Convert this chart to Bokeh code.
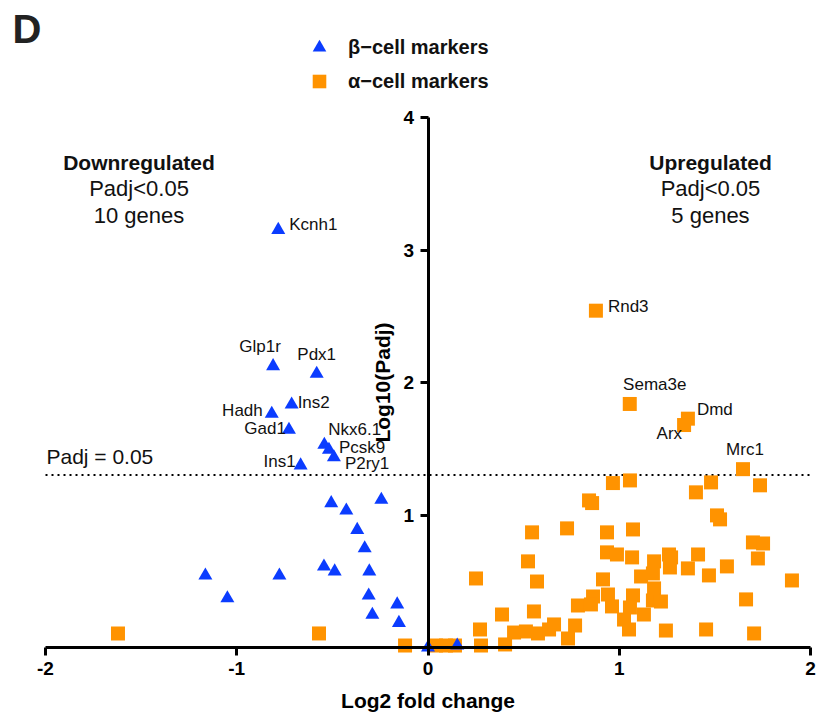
import math
from bokeh.plotting import figure
from bokeh.models import (Range1d, FixedTicker, Legend, LegendItem, Label,
                          ColumnDataSource, NumeralTickFormatter)
from bokeh.core.properties import value
from bokeh.embed import file_html
from bokeh.resources import INLINE

FONT = "Liberation Sans"
BLUE = "#0B3CFF"
ORANGE = "#FF9300"

# ---------------- data ----------------
# beta-cell markers, significant (labelled)
beta_genes = ["Kcnh1", "Glp1r", "Pdx1", "Ins2", "Hadh", "Gad1", "Nkx6.1", "Pcsk9", "P2ry1", "Ins1"]
beta_sig_lfc = [-0.783, -0.810, -0.582, -0.713, -0.817, -0.727, -0.542, -0.518, -0.492, -0.666]
beta_sig_nlp = [3.152, 2.123, 2.066, 1.834, 1.764, 1.643, 1.530, 1.492, 1.436, 1.374]
# beta-cell markers, not significant
beta_ns_lfc = [-0.506, -0.427, -0.244, -0.370, -0.331, -0.544, -0.488, -0.307, -1.164,
               -0.777, -1.049, -0.310, -0.161, -0.291, -0.152, 0.0, 0.153]
beta_ns_nlp = [1.089, 1.034, 1.115, 0.888, 0.749, 0.611, 0.574, 0.574, 0.543,
               0.543, 0.372, 0.392, 0.325, 0.247, 0.186, 0.0, 0.015]

# alpha-cell markers, significant (labelled)
alpha_genes = ["Rnd3", "Sema3e", "Dmd", "Arx", "Mrc1"]
alpha_sig_lfc = [0.878, 1.055, 1.359, 1.339, 1.647]
alpha_sig_nlp = [2.542, 1.838, 1.727, 1.679, 1.346]
# alpha-cell markers, not significant
alpha_ns_lfc = [0.967, 1.056, 1.401, 1.480, 1.736, 0.842, 0.858, 1.511, 1.527, 0.544,
                0.727, 0.936, 1.072, 1.699, 1.752, 0.523, 0.936, 0.988, 1.067, 1.260,
                1.271, 1.182, 1.412, 1.725, 0.251, 0.570, 0.915, 1.114, 1.176, 1.265,
                1.359, 1.469, 1.563, 1.903, 0.863, 0.784, 0.852, 0.941, 0.962, 1.072,
                1.056, 1.182, 1.176, 1.218, 1.129, 1.025, 1.663, 0.387, 0.554, 0.272,
                0.450, 0.512, 0.575, 0.633, 0.659, 0.769, 0.732, 1.051, 1.244, 1.454,
                1.705, 0.277, 0.403, 0.042, 0.094, 0.141, -1.621, -0.570, -0.120]
alpha_ns_nlp = [1.241, 1.261, 1.171, 1.246, 1.224, 1.110, 1.090, 0.997, 0.967, 0.869,
                0.899, 0.869, 0.891, 0.793, 0.785, 0.650, 0.718, 0.702, 0.680, 0.702,
                0.680, 0.650, 0.702, 0.672, 0.521, 0.498, 0.514, 0.536, 0.559, 0.604,
                0.597, 0.544, 0.612, 0.506, 0.385, 0.317, 0.325, 0.400, 0.310, 0.393,
                0.302, 0.446, 0.355, 0.347, 0.249, 0.211, 0.363, 0.249, 0.272, 0.136,
                0.113, 0.121, 0.106, 0.136, 0.174, 0.166, 0.068, 0.136, 0.128, 0.136,
                0.106, 0.015, 0.023, 0.015, 0.015, 0.015, 0.106, 0.106, 0.015]

padj_cut = 0.05
x_ticks = [-2, -1, 0, 1, 2]
y_ticks = [1, 2, 3, 4]

# label placement (align, dx px, dy px; dy positive = down)
label_style = {
    "Kcnh1": ("left", 11, -5), "Glp1r": ("center", -13, -20), "Pdx1": ("center", 0, -19),
    "Ins2": ("left", 6, -2), "Hadh": ("right", -9, -3), "Gad1": ("right", -3, -1),
    "Nkx6.1": ("left", 4, -15), "Pcsk9": ("left", 10, -2), "P2ry1": ("left", 11, 6),
    "Ins1": ("right", -5, -4),
    "Rnd3": ("left", 12, -4), "Sema3e": ("center", 25, -19), "Dmd": ("left", 9, -9),
    "Arx": ("right", -2, 8), "Mrc1": ("center", 2, -20),
}

# ---------------- figure ----------------
# the frame fills the whole canvas; axes are fixed at 0 and bounded to the data span
p = figure(width=823, height=715,
           x_range=Range1d(-2 - 45 / 191.25, 2 + 13 / 191.25),
           y_range=Range1d(-68 / 132.5, 4 + 117 / 132.5),
           output_backend="svg", toolbar_location=None,
           min_border_left=0, min_border_right=0, min_border_top=0, min_border_bottom=0)
p.grid.visible = False
p.outline_line_color = None

for ax in (p.xaxis[0], p.yaxis[0]):
    ax.fixed_location = 0
    ax.formatter = NumeralTickFormatter(format="0")
    ax.axis_line_width = 3
    ax.axis_line_color = "black"
    ax.major_tick_line_width = 3
    ax.major_tick_line_color = "black"
    ax.major_tick_in = 0
    ax.major_tick_out = 8
    ax.minor_tick_line_color = None
    ax.major_label_text_font = FONT
    ax.major_label_text_font_style = "bold"
    ax.major_label_text_font_size = "19px"
    ax.major_label_text_color = "black"
    ax.axis_label_text_font = FONT
    ax.axis_label_text_font_style = "bold"
    ax.axis_label_text_font_size = "21px"
    ax.axis_label_text_color = "black"

p.xaxis[0].bounds = (min(x_ticks), max(x_ticks))
p.xaxis[0].ticker = FixedTicker(ticks=x_ticks)
p.xaxis[0].axis_label = "Log2 fold change"
p.xaxis[0].major_label_standoff = 6
p.xaxis[0].axis_label_standoff = 11

p.yaxis[0].bounds = (0, max(y_ticks))
p.yaxis[0].ticker = FixedTicker(ticks=y_ticks)
p.yaxis[0].axis_label = "Log10(Padj)"
p.yaxis[0].major_label_standoff = 6
p.yaxis[0].axis_label_standoff = 7

# threshold line
thr = -math.log10(padj_cut)
p.segment(x0=[min(x_ticks)], y0=[thr], x1=[max(x_ticks)], y1=[thr],
          line_color="black", line_width=2, line_dash="2 4")

# points
sq = p.scatter(alpha_sig_lfc + alpha_ns_lfc, alpha_sig_nlp + alpha_ns_nlp, marker="square",
               size=14, fill_color=ORANGE, line_color=None)
tri = p.scatter(beta_sig_lfc + beta_ns_lfc, beta_sig_nlp + beta_ns_nlp, marker="triangle",
                size=14, fill_color=BLUE, line_color=None)

# gene labels
all_names = beta_genes + alpha_genes
all_x = beta_sig_lfc + alpha_sig_lfc
all_y = beta_sig_nlp + alpha_sig_nlp
for align in ("left", "center", "right"):
    idx = [i for i, n in enumerate(all_names) if label_style[n][0] == align]
    src = ColumnDataSource(dict(
        x=[all_x[i] for i in idx], y=[all_y[i] for i in idx],
        text=[all_names[i] for i in idx],
        dx=[label_style[all_names[i]][1] for i in idx],
        dy=[label_style[all_names[i]][2] for i in idx]))
    p.text(x="x", y="y", text="text", x_offset="dx", y_offset="dy", source=src,
           text_align=align, text_baseline="middle", text_font=value(FONT),
           text_font_size="17px", text_color="#111111")

# annotation blocks
def put(x, y, txt, size="21px", style="normal", align="center"):
    p.add_layout(Label(x=x, y=y, text=txt, text_font=FONT, text_font_size=size,
                       text_font_style=style, text_align=align, text_baseline="middle",
                       text_color="#111111"))

n_down = len(beta_genes)
n_up = len(alpha_genes)
put(-1.511, 3.663, "Downregulated", size="21px", style="bold")
put(-1.511, 3.464, "Padj<%g" % padj_cut, size="22px")
put(-1.511, 3.260, "%d genes" % n_down, size="22px")
put(1.477, 3.663, "Upregulated", size="21px", style="bold")
put(1.477, 3.464, "Padj<%g" % padj_cut, size="22px")
put(1.477, 3.260, "%d genes" % n_up, size="22px")
put(-1.995, 1.445, "Padj = %g" % padj_cut, size="21px", align="left")

p.add_layout(Label(x=-2.1725, y=4.668, text="D", text_font=FONT, text_font_size="40px",
                   text_font_style="bold", text_align="left", text_baseline="middle",
                   text_color="#222222"))

legend = Legend(items=[LegendItem(label="β−cell markers", renderers=[tri]),
                       LegendItem(label="α−cell markers", renderers=[sq])],
                location=(301, 617), padding=0, margin=0, spacing=0,
                glyph_width=36, glyph_height=34, label_standoff=11,
                label_text_font=FONT, label_text_font_style="bold",
                label_text_font_size="20px", label_text_color="#111111",
                border_line_color=None, background_fill_alpha=0)
p.add_layout(legend)

open("out.html", "w").write(file_html(p, INLINE))
